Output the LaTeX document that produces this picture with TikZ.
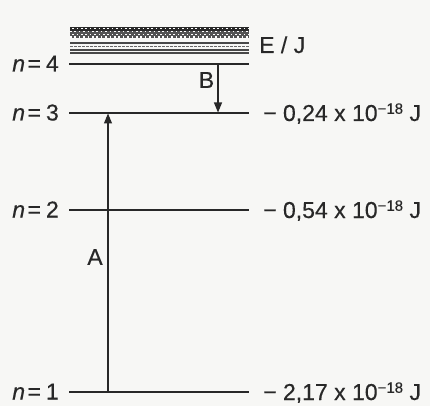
\documentclass[tikz,border=0pt]{standalone}
\usepackage{fontspec}
\setmainfont{Liberation Sans}[FakeBold=0.4]
\usetikzlibrary{arrows.meta}
\definecolor{paper}{RGB}{247,247,245}
\definecolor{ink}{RGB}{40,40,40}
\newcommand{\expo}{\raisebox{7.2pt}{\fontsize{15}{15}\selectfont −18}}
\newcommand{\nlab}[1]{\textit{n}\kern2.5pt=\kern5pt#1}
\begin{document}
\begin{tikzpicture}[x=1pt,y=-1pt,
  level/.style={line width=1.6pt, draw=ink},
  band/.style={line width=1.1pt, draw=ink!85},
  lbl/.style={font=\fontsize{23}{25}\selectfont, text=ink, inner sep=0pt},
  trans/.style={line width=1.1pt, draw=ink, -{Triangle[length=10pt,width=8pt]}}]
\useasboundingbox (0,0) rectangle (430,406);
\fill[paper] (0,0) rectangle (430,406);
% energy levels
\coordinate (l4a) at (69,64);  \coordinate (l4b) at (249,64);
\coordinate (l3a) at (69,113); \coordinate (l3b) at (249,113);
\coordinate (l2a) at (69,210); \coordinate (l2b) at (249,210);
\coordinate (l1a) at (69,392); \coordinate (l1b) at (249,392);
\draw[level] (l4a) -- (l4b);
\draw[level] (l3a) -- (l3b);
\draw[level] (l2a) -- (l2b);
\draw[level] (l1a) -- (l1b);
% converging levels near the limit
\draw[band, line width=1.2pt] (70,53) -- (249,53);
\draw[band, line width=1.3pt] (70,50) -- (249,50);
\draw[band, line width=1.6pt, draw=ink!70, dash pattern=on 2.5pt off 1.5pt] (70,46.5) -- (249,46.5);
\draw[band, line width=1.6pt] (70,43.2) -- (249,43.2);
\fill[ink!80] (70,27) rectangle (249,38);
\fill[ink] (70,27) rectangle (249,31);
\foreach \yy [count=\i] in {28.8,31.6,34.4,37.0}{
  \pgfmathsetmacro{\ph}{mod(\i,2)*2.2}
  \draw[white, line width=1.3pt, dash pattern=on 1.6pt off 2.8pt, dash phase=\ph pt] (70,\yy) -- (249,\yy);
}
% left labels
\node[lbl, anchor=base east] (n4) at (59,71.5)  {\nlab{4}};
\node[lbl, anchor=base east] (n3) at (59,120.5) {\nlab{3}};
\node[lbl, anchor=base east] (n2) at (59,217.5) {\nlab{2}};
\node[lbl, anchor=base east] (n1) at (59,399.5) {\nlab{1}};
% right labels
\node[lbl, anchor=base west] (ej) at (259,53) {E / J};
\node[lbl, anchor=base west] (e3) at (263,121) {− 0,24 x 10\expo\ J};
\node[lbl, anchor=base west] (e2) at (263,218) {− 0,54 x 10\expo\ J};
\node[lbl, anchor=base west] (e1) at (263,400) {− 2,17 x 10\expo\ J};
% transitions
\coordinate (a1) at (108,392); \coordinate (a3) at (108,113.5);
\coordinate (b4) at (218,64);  \coordinate (b3) at (218,112.5);
\draw[trans] (a1) -- (a3);
\draw[trans] (b4) -- (b3);
\node[lbl] (A) at (95,257) {A};
\node[lbl] (B) at (206.5,80) {B};
\end{tikzpicture}
\end{document}
